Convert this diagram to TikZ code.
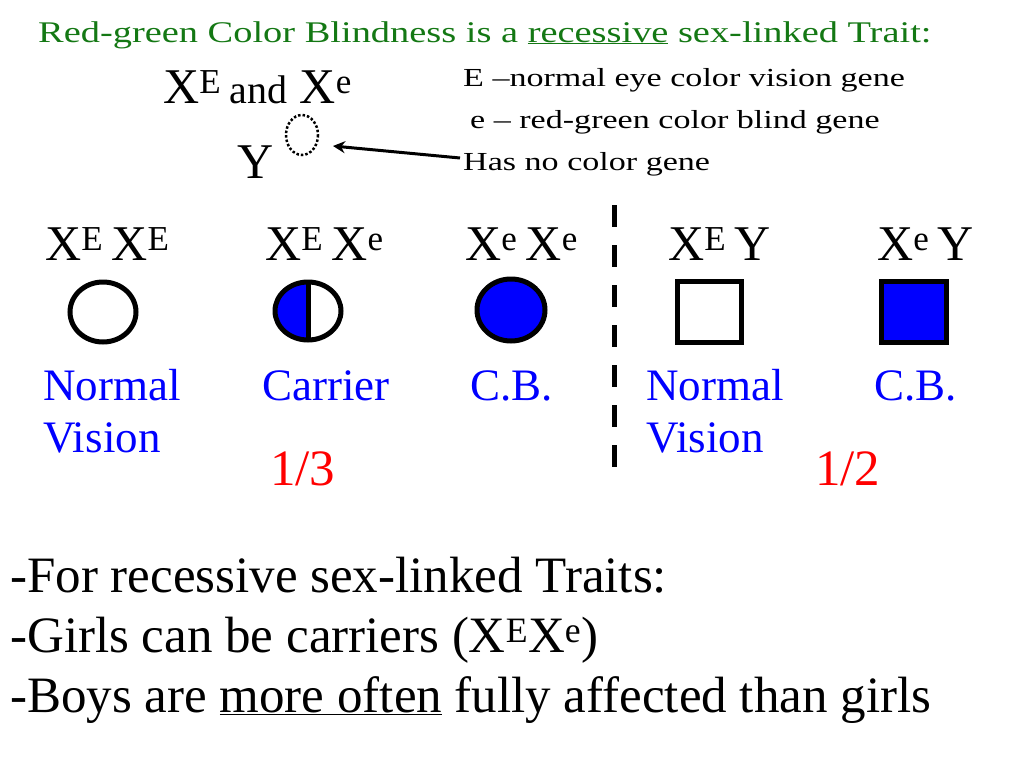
\documentclass[tikz,border=0pt]{standalone}
\usepackage{fontspec}
\setmainfont{Liberation Serif}
\usetikzlibrary{arrows.meta}
\begin{document}
\begin{tikzpicture}[x=1pt,y=-1pt,
  t/.style={inner sep=0pt,anchor=base west},
  lab/.style={t,font=\fontsize{50}{50}\selectfont},
  blue lab/.style={t,text=blue,font=\fontsize{45}{52}\selectfont},
  frac/.style={t,text=red,font=\fontsize{51}{51}\selectfont},
  big/.style={t,font=\fontsize{51}{51}\selectfont},
  leg/.style={t,font=\fontsize{26}{26}\selectfont},
  sym/.style={line width=5pt}]
\useasboundingbox (0,0) rectangle (1024,768);
\definecolor{tg}{RGB}{20,120,20}
\node[t,text=tg,font=\fontsize{30}{30}\selectfont] (title) at (38,42) {\scalebox{1.28}[1]{Red-green Color Blindness is a \underline{recessive} sex-linked Trait:}};
\node[t,font=\fontsize{50}{50}\selectfont] (xx) at (163,103) {X\textsuperscript{E}\,{\fontsize{40}{40}\selectfont and} X\textsuperscript{e}};
\node[t,font=\fontsize{50}{50}\selectfont] (y) at (237,178) {Y};
\draw[line width=2.5pt,dotted] (302,135) ellipse (16 and 20);
\coordinate (dot) at (333,146);
\node[leg] (l1) at (463,86) {\scalebox{1.31}[1]{E –normal eye color vision gene}};
\node[leg] (l2) at (470,128) {\scalebox{1.31}[1]{e – red-green color blind gene}};
\node[leg] (l3) at (463,170) {\scalebox{1.31}[1]{Has no color gene}};
\draw[line width=3pt,-{Stealth[length=12pt,width=12pt]}] (460,158) -- (dot);
\node[lab] (g1) at (45,260) {X\textsuperscript{E}\,X\textsuperscript{E}};
\node[lab] (g2) at (265,260) {X\textsuperscript{E}\,X\textsuperscript{e}};
\node[lab] (g3) at (465,260) {X\textsuperscript{e}\,X\textsuperscript{e}};
\node[lab] (g4) at (668,260) {X\textsuperscript{E}\,Y};
\node[lab] (g5) at (877,260) {X\textsuperscript{e}\,Y};
\draw[sym] (103,312) ellipse (33 and 30);
\begin{scope}
\clip (270,270) rectangle (308,350);
\fill[blue] (308,311) ellipse (33 and 29);
\end{scope}
\draw[sym] (308,311) ellipse (33 and 29);
\draw[sym] (308,282) -- (308,340);
\draw[sym,fill=blue] (511,310) ellipse (34 and 31);
\draw[sym] (677,281) rectangle (741,342);
\draw[sym,fill=blue] (881,281) rectangle (946,342);
\draw[line width=5pt,dash pattern=on 22pt off 18pt] (614,205) -- (614,480);
\node[blue lab,align=left] (n1) at (43,400) {Normal};
\node[blue lab,align=left] (v1) at (43,452) {Vision};
\node[blue lab] (c1) at (262,400) {Carrier};
\node[blue lab] (b1) at (470,400) {C.B.};
\node[blue lab] (n2) at (646,400) {Normal};
\node[blue lab] (v2) at (646,452) {Vision};
\node[blue lab] (b2) at (874,400) {C.B.};
\node[frac] (f1) at (270,485) {1/3};
\node[frac] (f2) at (815,485) {1/2};
\node[big] (s1) at (10,592) {-For recessive sex-linked Traits:};
\node[big] (s2) at (10,652) {-Girls can be carriers (X\textsuperscript{E}X\textsuperscript{e})};
\node[big] (s3) at (10,712) {-Boys are \underline{more often} fully affected than girls};
\end{tikzpicture}
\end{document}
